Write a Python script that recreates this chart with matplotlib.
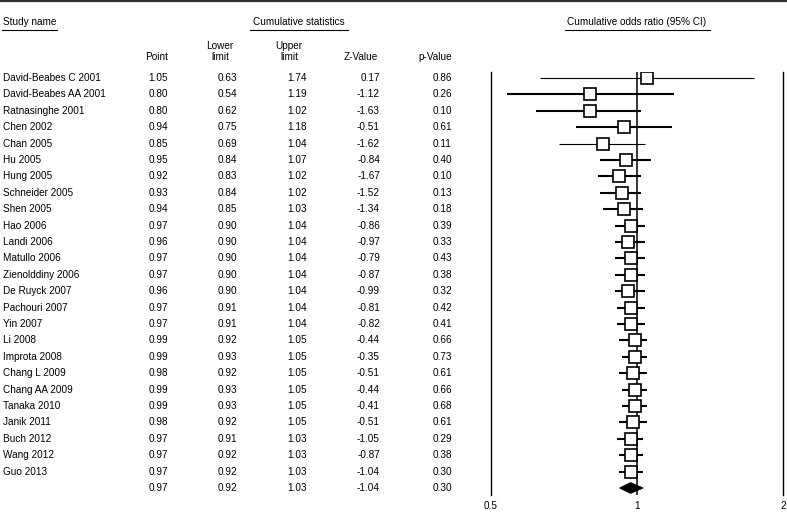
import matplotlib
matplotlib.use("Agg")
import matplotlib.pyplot as plt
from matplotlib.lines import Line2D
from matplotlib.patches import Polygon

plt.rcParams['font.family'] = ['Liberation Sans', 'DejaVu Sans']

studies = ["David-Beabes C 2001", "David-Beabes AA 2001", "Ratnasinghe 2001", "Chen 2002",
           "Chan 2005", "Hu 2005", "Hung 2005", "Schneider 2005", "Shen 2005", "Hao 2006",
           "Landi 2006", "Matullo 2006", "Zienolddiny 2006", "De Ruyck 2007", "Pachouri 2007",
           "Yin 2007", "Li 2008", "Improta 2008", "Chang L 2009", "Chang AA 2009",
           "Tanaka 2010", "Janik 2011", "Buch 2012", "Wang 2012", "Guo 2013"]
point = [1.05, 0.80, 0.80, 0.94, 0.85, 0.95, 0.92, 0.93, 0.94, 0.97, 0.96, 0.97, 0.97,
         0.96, 0.97, 0.97, 0.99, 0.99, 0.98, 0.99, 0.99, 0.98, 0.97, 0.97, 0.97]
lower = [0.63, 0.54, 0.62, 0.75, 0.69, 0.84, 0.83, 0.84, 0.85, 0.90, 0.90, 0.90, 0.90,
         0.90, 0.91, 0.91, 0.92, 0.93, 0.92, 0.93, 0.93, 0.92, 0.91, 0.92, 0.92]
upper = [1.74, 1.19, 1.02, 1.18, 1.04, 1.07, 1.02, 1.02, 1.03, 1.04, 1.04, 1.04, 1.04,
         1.04, 1.04, 1.04, 1.05, 1.05, 1.05, 1.05, 1.05, 1.05, 1.03, 1.03, 1.03]
zval = [0.17, -1.12, -1.63, -0.51, -1.62, -0.84, -1.67, -1.52, -1.34, -0.86, -0.97, -0.79,
        -0.87, -0.99, -0.81, -0.82, -0.44, -0.35, -0.51, -0.44, -0.41, -0.51, -1.05, -0.87, -1.04]
pval = [0.86, 0.26, 0.10, 0.61, 0.11, 0.40, 0.10, 0.13, 0.18, 0.39, 0.33, 0.43, 0.38,
        0.32, 0.42, 0.41, 0.66, 0.73, 0.61, 0.66, 0.68, 0.61, 0.29, 0.38, 0.30]
pooled = {"point": 0.97, "lower": 0.92, "upper": 1.03, "z": -1.04, "p": 0.30}
xticks = [0.5, 1, 2]
xticklabels = ["0.5", "1", "2"]

W, H = 787, 513
FS = 7.2
fig = plt.figure(figsize=(W / 100, H / 100), dpi=100)

def fx(px):
    return px / W

def fy(py):
    return 1 - py / H

top_px, bot_px = 72, 495
row0_px, rowN_px = 78, 488
n_rows = len(studies) + 1
step = (rowN_px - row0_px) / (n_rows - 1)
ylim = ((bot_px - row0_px) / step, (top_px - row0_px) / step)

# ---- table axes
axt = fig.add_axes([0, fy(bot_px), fx(491), (bot_px - top_px) / H])
axt.set_xlim(0, 491)
axt.set_ylim(*ylim)
axt.axis('off')

col_right = [168, 237, 307, 380, 452]
labels_all = studies + [""]
cols = [point + [pooled["point"]], lower + [pooled["lower"]], upper + [pooled["upper"]],
        zval + [pooled["z"]], pval + [pooled["p"]]]
for i, name in enumerate(labels_all):
    axt.text(3, i, name, ha='left', va='center', fontsize=FS)
    for c, xr in zip(cols, col_right):
        axt.text(xr, i, f"{c[i]:.2f}", ha='right', va='center', fontsize=FS)

# headers
fig.text(fx(3), fy(22), "Study name", ha='left', va='center', fontsize=FS)
fig.text(fx(299), fy(22), "Cumulative statistics", ha='center', va='center', fontsize=FS)
fig.text(fx(637), fy(22), "Cumulative odds ratio (95% CI)", ha='center', va='center', fontsize=FS)
fig.text(fx(168), fy(57), "Point", ha='right', va='center', fontsize=FS)
fig.text(fx(220), fy(46), "Lower", ha='center', va='center', fontsize=FS)
fig.text(fx(220), fy(57), "limit", ha='center', va='center', fontsize=FS)
fig.text(fx(289), fy(46), "Upper", ha='center', va='center', fontsize=FS)
fig.text(fx(289), fy(57), "limit", ha='center', va='center', fontsize=FS)
fig.text(fx(378), fy(57), "Z-Value", ha='right', va='center', fontsize=FS)
fig.text(fx(452), fy(57), "p-Value", ha='right', va='center', fontsize=FS)

# underlines and top rule
for x0, x1 in [(2, 57), (250, 348), (565, 710)]:
    fig.add_artist(Line2D([fx(x0), fx(x1)], [fy(29.5), fy(29.5)], color='black', lw=0.8))
fig.add_artist(Line2D([0, 1], [fy(0.8), fy(0.8)], color='#333333', lw=1.6))

# ---- forest axes
axf = fig.add_axes([fx(491), fy(bot_px), (783 - 491) / W, (bot_px - top_px) / H])
axf.set_xscale('log')
axf.set_xlim(0.5, 2)
axf.set_ylim(*ylim)
for s in ['top', 'bottom']:
    axf.spines[s].set_visible(False)
for s in ['left', 'right']:
    axf.spines[s].set_linewidth(1.0)
axf.set_yticks([])
axf.set_xticks(xticks)
axf.set_xticklabels(xticklabels, fontsize=FS)
axf.minorticks_off()
axf.tick_params(axis='x', length=0, pad=4)
axf.patch.set_visible(False)

axf.axvline(1, color='black', lw=1.1, zorder=2)
thin_rows = {0, 4}
for i in range(len(studies)):
    lw = 0.8 if i in thin_rows else 1.5
    axf.plot([lower[i], upper[i]], [i, i], color='black', lw=lw, zorder=3, solid_capstyle='butt')
    axf.plot(point[i], i, marker='s', ms=9.3, mfc='white', mec='black', mew=1.2, zorder=4)

yd = len(studies)
h = 5.5 / step
dia = Polygon([(pooled["lower"], yd), (pooled["point"], yd - h),
               (pooled["upper"], yd), (pooled["point"], yd + h)],
              closed=True, facecolor='black', edgecolor='black', lw=0.5, zorder=4)
axf.add_patch(dia)

fig.savefig("out.png", dpi=100)
